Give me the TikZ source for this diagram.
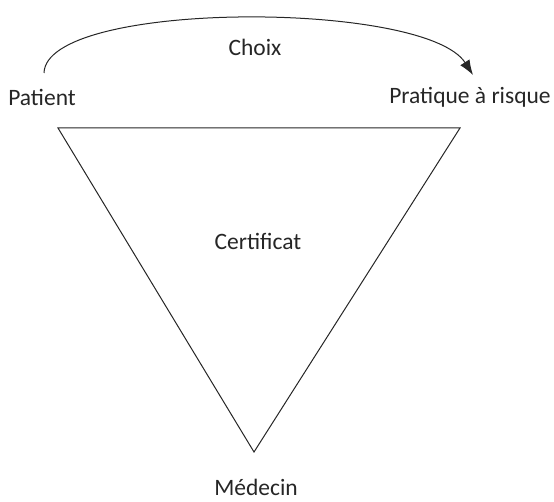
\documentclass[tikz,border=0pt]{standalone}
\usepackage{fontspec}
\setmainfont{Carlito}
\usetikzlibrary{arrows.meta}
\begin{document}
\begin{tikzpicture}[x=1pt,y=-1pt,
  lbl/.style={font=\fontsize{23.5}{28}\selectfont, text=black!85, inner sep=0pt},
  edge/.style={draw=black!85, line width=1pt, line join=miter}]
\useasboundingbox (0,0) rectangle (554,502);
% labels
\node[lbl] (patient) at (42,97) {Patient};
\node[lbl] (pratique) at (470,97) {Pratique à risque};
\node[lbl] (choix) at (255,47) {Choix};
\node[lbl] (certif) at (258,241) {Certificat};
\node[lbl] (medecin) at (256,487) {Médecin};
% corners of the inverted triangle
\coordinate (tl) at (58,128);
\coordinate (tr) at (460,128);
\coordinate (bt) at (254,452);
\draw[edge] (tl) -- (tr) -- (bt) -- cycle;
% choice arc from patient to risky practice
\coordinate (astart) at (44,73);
\coordinate (aend) at (473,75);
\draw[edge, -{Latex[length=15pt,width=11pt]}] (astart) .. controls (46,0) and (425,0) .. (aend);
\end{tikzpicture}
\end{document}
